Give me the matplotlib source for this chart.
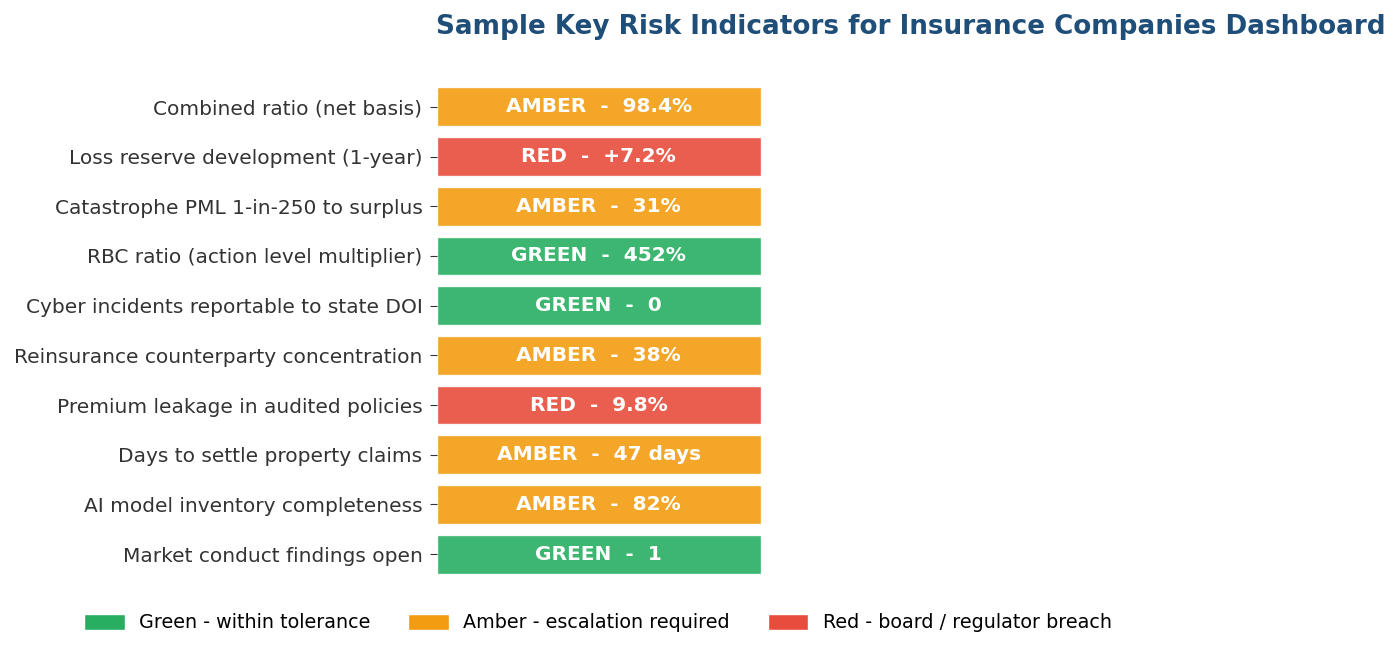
import matplotlib
matplotlib.use("Agg")
import matplotlib.pyplot as plt
from matplotlib.patches import Patch

plt.rcParams['font.family'] = ['DejaVu Sans']

indicators = [
    "Combined ratio (net basis)",
    "Loss reserve development (1-year)",
    "Catastrophe PML 1-in-250 to surplus",
    "RBC ratio (action level multiplier)",
    "Cyber incidents reportable to state DOI",
    "Reinsurance counterparty concentration",
    "Premium leakage in audited policies",
    "Days to settle property claims",
    "AI model inventory completeness",
    "Market conduct findings open",
]
statuses = ["AMBER", "RED", "AMBER", "GREEN", "GREEN", "AMBER", "RED", "AMBER", "AMBER", "GREEN"]
values = ["98.4%", "+7.2%", "31%", "452%", "0", "38%", "9.8%", "47 days", "82%", "1"]

status_colors = {"GREEN": "#27ae60", "AMBER": "#f39c12", "RED": "#e74c3c"}
legend_labels = ["Green - within tolerance", "Amber - escalation required", "Red - board / regulator breach"]

fig = plt.figure(figsize=(14, 6.57), dpi=100)
ax = fig.add_axes([437/1400, 1 - 584/657, 948/1400, (584-77)/657])

y = list(range(len(indicators)))
colors = [status_colors[s] for s in statuses]
ax.barh(y, [1]*len(y), height=0.78, color=colors, alpha=0.9, edgecolor="white", linewidth=1)
for yi, s, v in zip(y, statuses, values):
    ax.text(0.5, yi, f"{s}  -  {v}", ha="center", va="center", color="white",
            fontsize=14.5, fontweight="bold")

ax.set_xlim(0, 2.93)
ax.set_ylim(len(y) - 0.4, -0.6)
ax.set_yticks(y)
ax.set_yticklabels(indicators, fontsize=14.5, color="#333333")
ax.tick_params(axis="y", length=5, color="#333333", pad=5.5)
ax.set_xticks([])
for sp in ax.spines.values():
    sp.set_visible(False)

ax.set_title("Sample Key Risk Indicators for Insurance Companies Dashboard",
             fontsize=18.9, fontweight="bold", color="#1f4e79", pad=31)

handles = [Patch(facecolor=status_colors[k], edgecolor="white") for k in ["GREEN", "AMBER", "RED"]]
fig.legend(handles, legend_labels, loc="center", bbox_to_anchor=(598/1400, 1 - 623/657),
           ncol=3, frameon=False, fontsize=13.8, handlelength=2.1, handleheight=0.95,
           handletextpad=0.77, columnspacing=1.96)

fig.savefig("out.png", dpi=100)
